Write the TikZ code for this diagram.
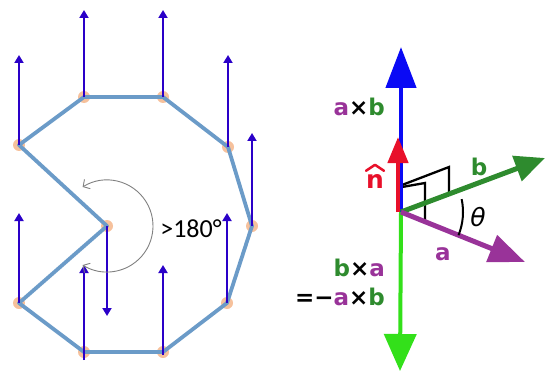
\documentclass[tikz,border=0pt]{standalone}
\usepackage{fontspec}
\setmainfont{DejaVu Sans}
\newfontfamily\calfont{Carlito}
\usetikzlibrary{arrows.meta}
\definecolor{polyblue}{HTML}{6B9BC8}
\definecolor{vtx}{HTML}{F4B183}
\definecolor{nrmblue}{HTML}{2A00C8}
\definecolor{avec}{HTML}{993399}
\definecolor{bvec}{HTML}{2E8B2E}
\definecolor{limevec}{HTML}{33E01A}
\definecolor{zblue}{HTML}{0A0AF5}
\definecolor{nred}{HTML}{E8102A}
\begin{document}
\begin{tikzpicture}[x=1pt,y=-1pt,
  polyline/.style={draw=polyblue, line width=3.8pt, line join=round},
  vertexdot/.style={fill=vtx, opacity=0.8},
  normalvec/.style={draw=nrmblue, line width=1.8pt, -{Triangle[length=8pt,width=9pt]}},
  anglearc/.style={draw=gray, line width=0.9pt, {Straight Barb[length=5pt,width=11pt]}-{Straight Barb[length=5pt,width=11pt]}},
  lbl/.style={font=\bfseries\fontsize{23}{23}\selectfont, inner sep=0pt},
  rightmark/.style={draw=black, line width=2.3pt, line join=miter}]
\useasboundingbox (0,0) rectangle (545,374);
% ---------- left: polygon ----------
\coordinate (p1) at (19,145);
\coordinate (p2) at (84,97);
\coordinate (p3) at (163,97);
\coordinate (p4) at (228,147);
\coordinate (p5) at (252,226);
\coordinate (p6) at (227,303);
\coordinate (p7) at (163,352);
\coordinate (p8) at (84,352);
\coordinate (p9) at (19,303);
\coordinate (p10) at (107,226);
\foreach \p in {p1,p2,p3,p4,p5,p6,p7,p8,p9,p10} \fill[vertexdot] (\p) circle (6pt);
\draw[polyline] (p1) -- (p2) -- (p3) -- (p4) -- (p5) -- (p6) -- (p7) -- (p8) -- (p9) -- (p10) -- cycle;
% normals
\coordinate (t1) at (19,55);
\coordinate (t2) at (84,10);
\coordinate (t3) at (163,10);
\coordinate (t4) at (228,55);
\coordinate (t5) at (252,133);
\coordinate (t6) at (227,213);
\coordinate (b7) at (163,355);
\coordinate (t7) at (163,265);
\coordinate (b8) at (84,360);
\coordinate (t8) at (84,265);
\coordinate (t9) at (19,213);
\coordinate (t10) at (107,316);
\draw[normalvec] (p1) -- (t1);
\draw[normalvec] (p2) -- (t2);
\draw[normalvec] (p3) -- (t3);
\draw[normalvec] (p4) -- (t4);
\draw[normalvec] (p5) -- (t5);
\draw[normalvec] (p6) -- (t6);
\draw[normalvec] (b7) -- (t7);
\draw[normalvec] (b8) -- (t8);
\draw[normalvec] (p9) -- (t9);
\draw[normalvec] (p10) -- (t10);
% reflex angle
\draw[anglearc] (p10) ++(-122:46) arc[start angle=-122, end angle=122, radius=46];
\node[font=\calfont\fontsize{26}{26}\selectfont, inner sep=0pt] (ang) at (191,229) {>180°};
% ---------- right: cross product ----------
\coordinate (O) at (401,212);
\coordinate (axbtip) at (401,47);
\coordinate (nbase) at (398,212);
\coordinate (ntip) at (398,137);
\coordinate (bxatip) at (400,371);
\coordinate (btip) at (545,158);
\coordinate (atip) at (525,262);
% right-angle marks
\coordinate (m1) at (402,185);
\coordinate (m2) at (449,167);
\coordinate (m3) at (449,193);
\coordinate (m4) at (402,187);
\coordinate (m5) at (425,183);
\coordinate (m6) at (425,221);
\draw[rightmark] (m1) -- (m2) -- (m3);
\draw[rightmark] (m4) -- (m5) -- (m6);
% vectors
\draw[zblue, line width=4.5pt, -{Triangle[length=41pt,width=30pt]}] (O) -- (axbtip);
\draw[nred, line width=4.5pt, -{Triangle[length=26pt,width=20pt]}] (nbase) -- (ntip);
\draw[limevec, line width=4pt, -{Triangle[length=37pt,width=32pt]}] (O) -- (bxatip);
\draw[bvec, line width=5pt, -{Triangle[length=30pt,width=26pt]}] (O) -- (btip);
\draw[avec, line width=5pt, -{Triangle[length=36pt,width=28pt]}] (O) -- (atip);
% theta arc
\draw[black, line width=2pt] (O) ++(-12:62) arc[start angle=-12, end angle=22, radius=62];
\node[font=\itshape\fontsize{25}{25}\selectfont, inner sep=0pt] (theta) at (478,217) {θ};
% labels
\node[lbl, anchor=base east] (laxb) at (385,116) {\textcolor{avec}{a}×\textcolor{bvec}{b}};
\node[lbl, anchor=base, text=nred, font=\bfseries\fontsize{25}{25}\selectfont] (ln) at (375,188) {n};
\draw[nred, line width=2.5pt, line join=round, line cap=round] ([xshift=-9pt,yshift=3pt]ln.north) -- ([yshift=9pt]ln.north) -- ([xshift=9pt,yshift=3pt]ln.north);
\node[lbl, anchor=base, text=bvec] (lb) at (479,175) {b};
\node[lbl, anchor=base, text=avec] (la) at (443,260) {a};
\node[lbl, anchor=base east] (lbxa) at (385,276) {\textcolor{bvec}{b}×\textcolor{avec}{a}};
\node[lbl, anchor=base east] (lneg) at (385,305) {=−\textcolor{avec}{a}×\textcolor{bvec}{b}};
\end{tikzpicture}
\end{document}
